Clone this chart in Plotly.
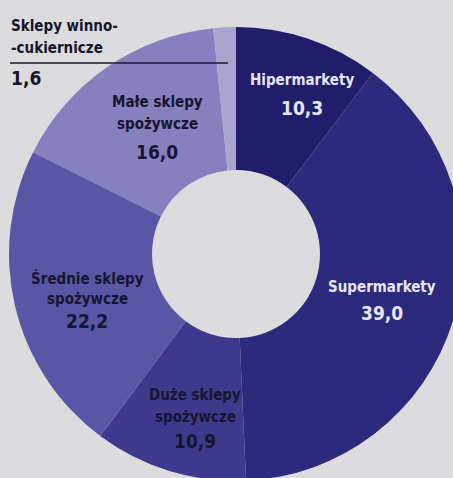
import plotly.graph_objects as go

categories = ["Hipermarkety", "Supermarkety", "Duże sklepy spożywcze",
              "Średnie sklepy spożywcze", "Małe sklepy spożywcze",
              "Sklepy winno-cukiernicze"]
values = [10.3, 39.0, 10.9, 22.2, 16.0, 1.6]
value_labels = ["10,3", "39,0", "10,9", "22,2", "16,0", "1,6"]
colors = ["#201d6b", "#2b2a7d", "#3d398d", "#5b55a6", "#8680bf", "#a9a5d1"]

W, H = 470, 490
cx, cy, R = 236, 254, 227

fig = go.Figure(go.Pie(
    labels=categories, values=values, sort=False, direction="clockwise",
    rotation=0, hole=0.37, textinfo="none", hoverinfo="label+value",
    marker=dict(colors=colors, line=dict(width=0)),
    domain=dict(x=[(cx - R) / W, (cx + R) / W],
                y=[(H - cy - R) / H, (H - cy + R) / H]),
    showlegend=False,
))

FONT = "Liberation Sans Narrow, DejaVu Sans Condensed, sans-serif"
light = "#e6e6f0"
dark = "#15152e"
NS, VS = 15, 19

def ann(text, px, py, size, color, xanchor="center"):
    fig.add_annotation(text=text, x=px / W, y=1 - py / H, xref="paper", yref="paper",
                       showarrow=False, xanchor=xanchor, yanchor="middle",
                       font=dict(family=FONT, size=size, color=color))

# Hipermarkety
ann("<b>" + categories[0] + "</b>", 302, 80, NS, light)
ann("<b>" + value_labels[0] + "</b>", 302, 108, VS, light)
# Supermarkety
ann("<b>" + categories[1] + "</b>", 382, 287, NS, light)
ann("<b>" + value_labels[1] + "</b>", 382, 313, VS, light)
# Duże
ann("<b>Duże sklepy</b>", 195, 395, NS, dark)
ann("<b>spożywcze</b>", 195, 417, NS, dark)
ann("<b>" + value_labels[2] + "</b>", 195, 441, VS, dark)
# Średnie
ann("<b>Średnie sklepy</b>", 87, 278, NS, dark)
ann("<b>spożywcze</b>", 87, 299, NS, dark)
ann("<b>" + value_labels[3] + "</b>", 87, 321, VS, dark)
# Małe
ann("<b>Małe sklepy</b>", 157, 102, NS, dark)
ann("<b>spożywcze</b>", 157, 124, NS, dark)
ann("<b>" + value_labels[4] + "</b>", 157, 152, VS, dark)
# Sklepy winno-cukiernicze
ann("<b>Sklepy winno-</b>", 9, 26, NS, dark, "left")
ann("<b>-cukiernicze</b>", 9, 48, NS, dark, "left")
ann("<b>" + value_labels[5] + "</b>", 9, 78, VS, dark, "left")
fig.add_shape(type="line", xref="paper", yref="paper",
              x0=10 / W, x1=228 / W, y0=1 - 63 / H, y1=1 - 63 / H,
              line=dict(color="#1a1a2a", width=1.5))

fig.update_layout(width=W, height=H, margin=dict(l=0, r=0, t=0, b=0),
                  paper_bgcolor="#dcdcdf", plot_bgcolor="#dcdcdf")

fig.write_html("out.html", config={"displayModeBar": False},
               post_script="document.body.style.overflow='hidden';document.documentElement.style.overflow='hidden';")
